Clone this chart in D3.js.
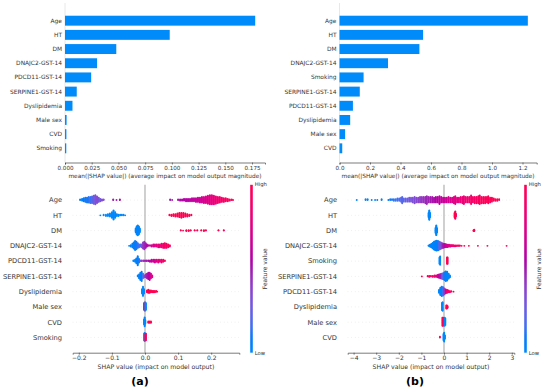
<!DOCTYPE html>
<html><head><meta charset="utf-8">
<script src="https://cdn.jsdelivr.net/npm/d3@7"></script>
<style>body{margin:0;background:#fff}svg{display:block}text{font-family:"DejaVu Sans",sans-serif}</style>
</head><body>
<script>
// ---------- DATA ----------
const barFeaturesA = ["Age","HT","DM","DNAJC2-GST-14","PDCD11-GST-14","SERPINE1-GST-14","Dyslipidemia","Male sex","CVD","Smoking"];
const barValuesA = [0.178,0.098,0.048,0.030,0.0245,0.011,0.007,0.0015,0.0013,0.0012];
const barFeaturesB = ["Age","HT","DM","DNAJC2-GST-14","Smoking","SERPINE1-GST-14","PDCD11-GST-14","Dyslipidemia","Male sex","CVD"];
const barValuesB = [1.235,0.548,0.524,0.318,0.158,0.133,0.088,0.07,0.037,0.018];
const barTicksA = [0,0.025,0.05,0.075,0.1,0.125,0.15,0.175];
const barTicksB = [0,0.2,0.4,0.6,0.8,1.0,1.2];
const swarmTicksA = [-0.2,-0.1,0,0.1,0.2];
const swarmTicksB = [-4,-3,-2,-1,0,1,2,3];

// beeswarm columns: [shap value, number of samples, feature value (0 low .. 1 high)]
const ageA = [[-0.196,2,.05],[-0.19,4,.05],[-0.185,6,.08],[-0.18,8,.1],[-0.175,9,.1],[-0.17,10,.12],[-0.165,11,.15],[-0.16,12,.2],[-0.155,14,.25],[-0.15,16,.3],[-0.145,12,.35],[-0.14,8,.3],[-0.135,5,.3],[-0.13,3,.35],[-0.125,2,.3],[-0.096,2,.5],[-0.086,1,.5],[-0.076,2,.55],
 [0.076,2,.5],[0.082,1,.5],[0.1,2,.52],[0.106,3,.54],[0.112,3,.55],[0.118,4,.56],[0.124,5,.57],[0.13,5,.58],[0.136,5,.6],[0.142,6,.6],[0.148,6,.62],[0.154,7,.64],[0.16,8,.66],[0.166,9,.68],[0.172,10,.7],[0.178,11,.72],[0.184,12,.74],[0.19,14,.76],[0.196,16,.78],[0.202,16,.8],[0.208,15,.82],[0.214,13,.85],[0.22,11,.87],[0.226,10,.89],[0.232,8,.9],[0.238,7,.92],[0.244,6,.94],[0.25,5,.95],[0.256,3,.96],[0.262,2,.98],[0.266,1,1]];
const htA = [[-0.135,1,0],[-0.125,2,0],[-0.118,3,0],[-0.112,4,0],[-0.106,6,0],[-0.1,10,0],[-0.095,16,0],[-0.09,10,0],[-0.085,4,0],[-0.08,3,0],[-0.075,2,0],[-0.07,2,0],[-0.065,2,0],[-0.06,1,0],
 [0.074,2,1],[0.08,3,1],[0.086,4,1],[0.092,5,1],[0.098,6,1],[0.104,8,1],[0.11,9,1],[0.116,8,1],[0.122,6,1],[0.128,5,1],[0.134,3,1],[0.14,2,1]];
const dmA = [[-0.028,10,0],[-0.025,20,0],[-0.022,24,0],[-0.019,20,0],[-0.016,10,0],
 [0.108,2,1],[0.115,1,1],[0.125,3,1],[0.132,3,1],[0.138,2,1],[0.15,2,1],[0.158,2,1],[0.17,2,1],[0.178,3,1],[0.184,2,1],[0.222,2,1],[0.238,2,1]];
const dnajc2A = [[-0.048,1,.05],[-0.043,3,.05],[-0.038,6,.05],[-0.034,10,.06],[-0.03,14,.08],[-0.026,12,.1],[-0.022,8,.12],[-0.018,5,.15],[-0.014,4,.2],[-0.01,5,.3],[-0.006,10,.4],[-0.002,12,.45],[0.002,8,.5],[0.006,4,.55],[0.01,2,.6],[0.015,2,.65],[0.02,3,.7],[0.025,4,.72],[0.03,4,.75],[0.035,4,.78],[0.04,5,.8],[0.045,5,.82],[0.05,6,.85],[0.055,7,.87],[0.06,8,.9],[0.065,7,.92],[0.07,5,.94],[0.075,3,.95]];
const pdcd11A = [[-0.035,2,.02],[-0.03,4,.03],[-0.026,8,.05],[-0.022,14,.06],[-0.018,6,.1],[-0.014,2,.3],[-0.01,2,.4],[-0.005,2,.45],[0,2,.5],[0.005,2,.5],[0.01,2,.55],[0.015,3,.6],[0.02,4,.62],[0.025,4,.66],[0.03,5,.7],[0.035,4,.75],[0.04,5,.8],[0.045,4,.82],[0.05,5,.86],[0.055,4,.9],[0.06,2,.95]];
const serpine1A = [[-0.022,2,.05],[-0.018,5,.05],[-0.014,9,.06],[-0.01,11,.08],[-0.006,6,.15],[-0.002,3,.35],[0.002,4,.45],[0.006,6,.5],[0.01,8,.55],[0.014,9,.6],[0.018,6,.7],[0.022,3,.8]];
const dyslipA = [[-0.009,8,0],[-0.006,16,0],[-0.003,8,0],[0.006,4,1],[0.01,6,1],[0.014,5,1],[0.018,4,1],[0.022,3,1],[0.026,3,1],[0.03,3,1],[0.034,2,1],[0.037,1,1]];
const maleA = [[-0.003,8,1],[-0.001,10,1],[0.001,10,0],[0.003,8,0]];
const cvdA = [[-0.003,8,0],[-0.001,14,0],[0.001,6,0],[0.01,3,1],[0.014,3,1],[0.018,3,1]];
const smokingA = [[-0.003,8,0],[-0.001,10,0],[0.001,8,1],[0.003,8,1]];

const ageB = [[-3.86,1,0],[-3.47,2,.02],[-3.38,2,.02],[-3.2,1,.03],[-3.05,1,.03],[-2.95,1,.04],[-2.76,2,.05],
 [-2.46,1,.08],[-2.38,2,.1],[-2.3,2,.1],[-2.22,3,.12],[-2.14,3,.14],[-2.06,4,.15],[-1.98,4,.17],[-1.9,6,.2],[-1.85,9,.2],[-1.78,5,.22],[-1.7,5,.24],[-1.62,5,.26],[-1.54,6,.28],[-1.46,6,.3],[-1.38,7,.32],[-1.3,9,.34],[-1.22,7,.36],[-1.14,7,.38],[-1.06,8,.4],[-0.98,8,.42],[-0.9,8,.44],[-0.82,9,.46],[-0.76,11,.47],[-0.68,8,.48],[-0.6,8,.5],[-0.52,8,.52],[-0.44,7,.54],[-0.36,8,.56],[-0.28,8,.58],[-0.2,11,.6],[-0.12,8,.62],[-0.04,7,.64],[0.04,7,.66],[0.12,7,.68],[0.2,8,.7],[0.28,7,.72],[0.36,7,.74],[0.44,9,.76],[0.5,11,.77],[0.58,7,.78],[0.66,7,.8],[0.74,8,.82],[0.82,9,.83],[0.88,11,.84],[0.96,8,.86],[1.04,8,.87],[1.12,8,.88],[1.2,12,.9],[1.28,8,.91],[1.36,9,.92],[1.44,9,.93],[1.52,10,.94],[1.58,12,.95],[1.66,9,.96],[1.74,9,.96],[1.82,9,.97],[1.9,8,.97],[1.96,10,.98],[2.04,7,.98],[2.12,6,.99],[2.2,4,.99],[2.28,3,1],[2.36,3,1],[2.44,2,1]];
const htB = [[-0.68,10,0],[-0.65,20,0],[-0.62,10,0],[0.47,10,1],[0.5,16,1],[0.53,6,1]];
const dmB = [[-0.37,12,0],[-0.34,22,0],[-0.31,10,0],[1.31,3,1],[1.34,4,1]];
const dnajc2B = [[-0.68,2,.02],[-0.62,6,.02],[-0.56,10,.02],[-0.5,16,.03],[-0.44,22,.03],[-0.38,26,.04],[-0.32,28,.05],[-0.26,26,.1],[-0.2,22,.2],[-0.14,18,.3],[-0.08,14,.4],[-0.02,12,.5],[0.04,10,.6],[0.1,8,.65],[0.16,7,.7],[0.22,6,.75],[0.28,5,.8],[0.34,4,.85],[0.4,4,.86],[0.46,3,.88],[0.52,3,.9],[0.58,2,.92],[0.64,2,.94],[0.7,2,.95],[0.78,1,.96],[0.9,1,.97],[1.1,1,1],[1.5,1,1],[1.92,1,1],[2.77,1,1]];
const smokingB = [[-0.2,8,0],[-0.17,10,0],[0.13,8,1],[0.16,8,1]];
const serpine1B = [[-0.98,1,1],[-0.72,2,.95],[-0.65,3,.95],[-0.58,2,.9],[-0.5,3,.9],[-0.42,4,.85],[-0.35,4,.8],[-0.28,6,.7],[-0.22,8,.6],[-0.16,10,.5],[-0.1,12,.35],[-0.04,14,.2],[0.02,18,.1],[0.08,22,.05],[0.14,20,.03],[0.2,12,.02],[0.26,5,.02]];
const pdcd11B = [[-0.22,6,.02],[-0.16,14,.02],[-0.1,18,.05],[-0.04,16,.15],[0.02,12,.4],[0.08,8,.7],[0.14,6,.85],[0.2,4,.9],[0.26,3,.9],[0.32,2,.95],[0.42,1,1]];
const dyslipB = [[-0.09,10,0],[-0.06,12,0],[0.1,5,1],[0.13,5,1],[0.16,3,1]];
const maleB = [[-0.07,10,1],[-0.04,10,1],[0.03,10,0],[0.06,8,0]];
const cvdB = [[-0.18,2,1],[-0.02,10,0],[0.01,14,0],[0.04,6,0]];

const swarmFeaturesA = ["Age","HT","DM","DNAJC2-GST-14","PDCD11-GST-14","SERPINE1-GST-14","Dyslipidemia","Male sex","CVD","Smoking"];
const swarmRowsA = [ageA,htA,dmA,dnajc2A,pdcd11A,serpine1A,dyslipA,maleA,cvdA,smokingA];
const swarmFeaturesB = ["Age","HT","DM","DNAJC2-GST-14","Smoking","SERPINE1-GST-14","PDCD11-GST-14","Dyslipidemia","Male sex","CVD"];
const swarmRowsB = [ageB,htB,dmB,dnajc2B,smokingB,serpine1B,pdcd11B,dyslipB,maleB,cvdB];

// ---------- DRAW ----------
const W = 550, H = 389;
const svg = d3.select("body").append("svg").attr("width", W).attr("height", H);
const defs = svg.append("defs");
const BLUE = "#008bfb", TXT = "#333333";

// shap red_blue colormap (LCh interpolation)
function shapColor(t){
  const l = t < 0.5 ? 54 + (40 - 54) * t * 2 : 40 + (54 - 40) * (t - 0.5) * 2;
  const c = 70 + 20 * t;
  const h = 266.93 + (380.32 - 266.93) * t;
  return d3.hcl(h % 360, c, l).rgb().clamp().formatHex();
}

function styleAxis(g, fs){
  g.select(".domain").attr("stroke", "#444").attr("stroke-width", 0.7);
  g.selectAll(".tick line").attr("stroke", TXT).attr("stroke-width", 0.6);
  g.selectAll(".tick text").attr("fill", TXT).attr("font-size", fs).attr("font-family", '"DejaVu Sans"');
}

function barPanel(features, values, x0, x1, domainMax, ticks, fmt){
  const y0 = 6.5, y1 = 162.5;
  const x = d3.scaleLinear().domain([0, domainMax]).range([x0, x1]);
  const y = d3.scaleLinear().domain([10, -1]).range([y0, y1]);
  const n = features.length;
  const g = svg.append("g");
  const rowH = Math.abs(y(0) - y(1));
  g.append("line").attr("x1", x0).attr("x2", x0).attr("y1", 3).attr("y2", y1).attr("stroke", "#e2e2e2").attr("stroke-width", 0.8);
  g.selectAll("rect.bar").data(values).join("rect")
    .attr("x", x(0)).attr("y", (d, i) => y(n - 1 - i) - 0.35 * rowH)
    .attr("width", d => x(d) - x(0)).attr("height", 0.7 * rowH).attr("fill", BLUE);
  g.selectAll("text.lab").data(features).join("text")
    .attr("x", x0 - 3).attr("y", (d, i) => y(n - 1 - i)).attr("dy", "0.35em")
    .attr("text-anchor", "end").attr("font-size", 5.9).attr("fill", TXT).text(d => d);
  const ax = g.append("g").attr("transform", `translate(0,${y1})`)
    .call(d3.axisBottom(x).tickValues(ticks).tickFormat(d3.format(fmt)).tickSizeOuter(0).tickSize(2).tickPadding(1.5));
  styleAxis(ax, 5.6);
  g.append("text").attr("x", (x0 + x1) / 2).attr("y", 177.5).attr("text-anchor", "middle")
    .attr("font-size", 5.8).attr("fill", TXT).text("mean(|SHAP value|) (average impact on model output magnitude)");
}

function swarmPanel(id, features, rows, x0, x1, zeroX, pxPerUnit, ticks, fmt, cbX, letter, letterX){
  const yTop = 184.8, yBot = 352.7;
  const x = d3.scaleLinear().domain([(x0 - zeroX) / pxPerUnit, (x1 - zeroX) / pxPerUnit]).range([x0, x1]);
  const y = d3.scaleLinear().domain([10, -1]).range([yTop, yBot]);
  const n = features.length;
  const rowH = Math.abs(y(0) - y(1));
  const g = svg.append("g");
  features.forEach((f, i) => {
    g.append("line").attr("x1", x0).attr("x2", x1).attr("y1", y(n - 1 - i)).attr("y2", y(n - 1 - i))
      .attr("stroke", "#cccccc").attr("stroke-width", 0.5).attr("stroke-dasharray", "0.6 3");
  });
  g.append("line").attr("x1", x(0)).attr("x2", x(0)).attr("y1", yTop).attr("y2", yBot)
    .attr("stroke", "#b0b0b0").attr("stroke-width", 1.2);
  rows.forEach((cols, i) => {
    const pts = [];
    let maxYs = 0;
    cols.forEach(([v, cnt, fv]) => {
      for (let k = 0; k < cnt; k++) {
        const ys = Math.ceil(k / 2) * ((k % 2) * 2 - 1);
        maxYs = Math.max(maxYs, Math.abs(ys));
        pts.push({v, ys, fv});
      }
    });
    const sc = 0.9 * 0.4 / (maxYs + 1);
    const cy = y(n - 1 - i);
    g.append("g").selectAll("circle").data(pts).join("circle")
      .attr("cx", d => x(d.v)).attr("cy", d => cy - d.ys * sc * rowH)
      .attr("r", 0.95).attr("fill", d => shapColor(d.fv));
  });
  g.selectAll("text.lab").data(features).join("text")
    .attr("x", x0 - 10.7)
    .attr("y", (d, i) => y(n - 1 - i)).attr("dy", "0.35em")
    .attr("text-anchor", "end").attr("font-size", 6.7).attr("fill", TXT).text(d => d);
  const ax = g.append("g").attr("transform", `translate(0,${yBot})`)
    .call(d3.axisBottom(x).tickValues(ticks).tickFormat(d3.format(fmt)).tickSizeOuter(0).tickSize(2).tickPadding(1.5));
  styleAxis(ax, 6);
  g.append("text").attr("x", (x0 + x1) / 2).attr("y", 369.3).attr("text-anchor", "middle")
    .attr("font-size", 6.2).attr("fill", TXT).text("SHAP value (impact on model output)");
  // colorbar
  const gid = "grad-" + id;
  const grad = defs.append("linearGradient").attr("id", gid)
    .attr("x1", "0").attr("x2", "0").attr("y1", "1").attr("y2", "0");
  d3.range(0, 21).forEach(k => grad.append("stop").attr("offset", k / 20).attr("stop-color", shapColor(k / 20)));
  g.append("rect").attr("x", cbX).attr("y", yTop).attr("width", 2.6).attr("height", yBot - yTop).attr("fill", `url(#${gid})`);
  g.append("text").attr("x", cbX + 4.5).attr("y", yTop).attr("dy", "0.2em").attr("font-size", 5.3).attr("fill", TXT).text("High");
  g.append("text").attr("x", cbX + 4.5).attr("y", yBot).attr("dy", "0.4em").attr("font-size", 5.3).attr("fill", TXT).text("Low");
  g.append("text").attr("transform", `translate(${cbX + 15},${(yTop + yBot) / 2}) rotate(-90)`)
    .attr("text-anchor", "middle").attr("dy", "0.35em").attr("font-size", 6).attr("fill", TXT).text("Feature value");
  svg.append("text").attr("x", letterX).attr("y", 384.5).attr("text-anchor", "middle")
    .attr("font-family", '"Liberation Serif", serif').attr("font-weight", "bold").attr("font-size", 11)
    .attr("fill", "#000").text(letter);
}

barPanel(barFeaturesA, barValuesA, 65, 265, 200 / 1068.6, barTicksA, ".3f");
barPanel(barFeaturesB, barValuesB, 339.5, 536.7, (536.7 - 339.5) / 152.5, barTicksB, ".1f");
swarmPanel("a", swarmFeaturesA, swarmRowsA, 72.7, 239.3, 145, 331, swarmTicksA, ".1f", 250.2, "(a)", 140);
swarmPanel("b", swarmFeaturesB, swarmRowsB, 347.7, 514.3, 444, 22.6, swarmTicksB, "d", 524.2, "(b)", 415);
</script>
</body></html>
